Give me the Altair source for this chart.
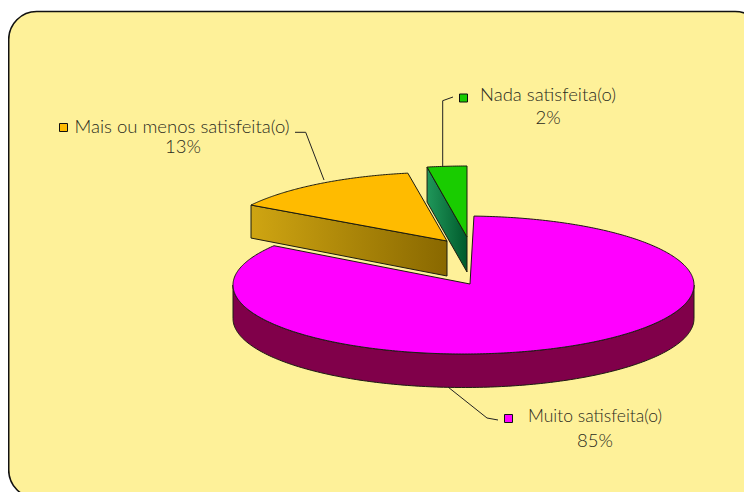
import altair as alt
import numpy as np
import pandas as pd

# Values
categories = ["Muito satisfeita(o)", "Mais ou menos satisfeita(o)", "Nada satisfeita(o)"]
percent_labels = ["85%", "13%", "2%"]
slice_start_deg = [2.6, -57.5, -10.0]     # clockwise from the top of each slice's ellipse
slice_end_deg = [304.7, -9.3, 0.0]

# Layout (image pixels)
W, H = 736, 484
X0, Y0 = 8, 8
x_scale = alt.Scale(domain=[X0, X0 + W], range=[0, W], nice=False, zero=False)
y_scale = alt.Scale(domain=[Y0 + H, Y0], range=[H, 0], nice=False, zero=False)
X = alt.X("x:Q", scale=x_scale, axis=None)
Y = alt.Y("y:Q", scale=y_scale, axis=None)


def arc(c, r, a0, a1, n=120):
    t = np.radians(np.linspace(a0, a1, n))
    return [(c[0] + r[0] * np.sin(v), c[1] - r[1] * np.cos(v)) for v in t]


def poly(points, **style):
    points = list(points)
    df = pd.DataFrame(points, columns=["x", "y"])
    df["o"] = range(len(df))
    return alt.Chart(df).mark_line(**style).encode(x=X, y=Y, order="o:Q")


def grad(c0, c1):
    return alt.Gradient(gradient="linear", x1=0, x2=1, y1=0, y2=0,
                        stops=[alt.GradientStop(color=c0, offset=0), alt.GradientStop(color=c1, offset=1)])


EDGE = dict(stroke="#1c1c10", strokeWidth=1, strokeJoin="round", interpolate="linear")
DEPTH = 33.5

# Frame (runs past the right and bottom of the picture, as in the reference)
frame = alt.Chart(pd.DataFrame({"a": [0]})).mark_rect(
    fill="#FEF199", stroke="#111111", strokeWidth=1.6, cornerRadius=28, clip=False
).encode(x=alt.value(0.7), x2=alt.value(755), y=alt.value(3.5), y2=alt.value(490))

# Orange slice (index 1)
oc, orad = (445, 243.2), (230, 71)
oarc = arc(oc, orad, slice_start_deg[1], slice_end_deg[1])
oapex = (447, 241)
oside = [oarc[0], oapex, (oapex[0], oapex[1] + 35), (oarc[0][0], oarc[0][1] + 33), oarc[0]]
orange_side = poly(oside, fill=grad("#CFA512", "#896800"), **EDGE)
orange_top = poly(oarc + [oapex, oarc[0]], fill="#FFBB00", **EDGE)

# Green slice (index 2)
gc, grad_r = (467, 237), (230, 71)
garc = arc(gc, grad_r, slice_start_deg[2], slice_end_deg[2], 20)
gside = [garc[0], gc, (gc[0], gc[1] + 35), (garc[0][0], garc[0][1] + 35), garc[0]]
green_side = poly(gside, fill=grad("#20975A", "#005A2C"), **EDGE)
green_top = poly(garc + [gc, garc[0]], fill="#19CC00", **EDGE)

# Magenta slice (index 0)
mc, mrad = (463.5, 285), (230.5, 69)
mapex = (470, 284)
marc = arc(mc, mrad, slice_start_deg[0], slice_end_deg[0], 400)
low = arc(mc, mrad, 90, 270, 200)
low_shift = [(a, b + DEPTH) for a, b in low]
magenta_side = poly(low + low_shift[::-1] + [low[0]], fill="#80004A", **EDGE)
magenta_top = poly(marc + [mapex, marc[0]], fill="#FF00FF", **EDGE)

# Leader lines
LEAD = dict(stroke="#222222", strokeWidth=1, interpolate="linear")
leaders = [
    poly([(324, 180), (305.7, 132.3), (295, 132.3)], **LEAD),
    poly([(442.7, 167), (442.7, 100.7), (453, 97)], **LEAD),
    poly([(448, 387), (487, 418), (498, 420)], **LEAD),
]

# Legend keys
key_colors = ["#FF00FF", "#FFBB00", "#19CC00"]
key_pos = [(508.5, 418.5), (63.5, 127.5), (463.5, 98)]
keys = []
for c, (kx, ky) in zip(key_colors, key_pos):
    d = pd.DataFrame({"x": [kx], "y": [ky]})
    keys.append(alt.Chart(d).mark_square(fill=c, stroke="#111111", strokeWidth=1, size=64, opacity=1).encode(
        x=X, y=Y))

# Text
name_pos = [(595, 417), (182, 127), (548, 95)]
pct_pos = [(595, 441), (183, 147), (548, 118)]
name_sizes = [17.5, 18.5, 18.5, 18.5, 18.5, 18.5]
texts = []
for s, (tx, ty), fs in zip(categories + percent_labels, name_pos + pct_pos, name_sizes):
    d = pd.DataFrame({"x": [tx], "y": [ty], "t": [s]})
    texts.append(alt.Chart(d).mark_text(
        font="Lato", fontSize=fs, fontWeight=300, color="#2a2a20", align="center", baseline="middle"
    ).encode(x=X, y=Y, text="t:N"))

layers = [frame, orange_side, orange_top, green_side, green_top, magenta_side, magenta_top,
          *leaders, *keys, *texts]
chart = alt.layer(*layers).properties(
    width=W, height=H, padding=0, background="white", autosize=alt.AutoSizeParams(type="none")
).configure_view(stroke=None)

chart.save("out.html", embed_options={"renderer": "svg", "actions": False})
